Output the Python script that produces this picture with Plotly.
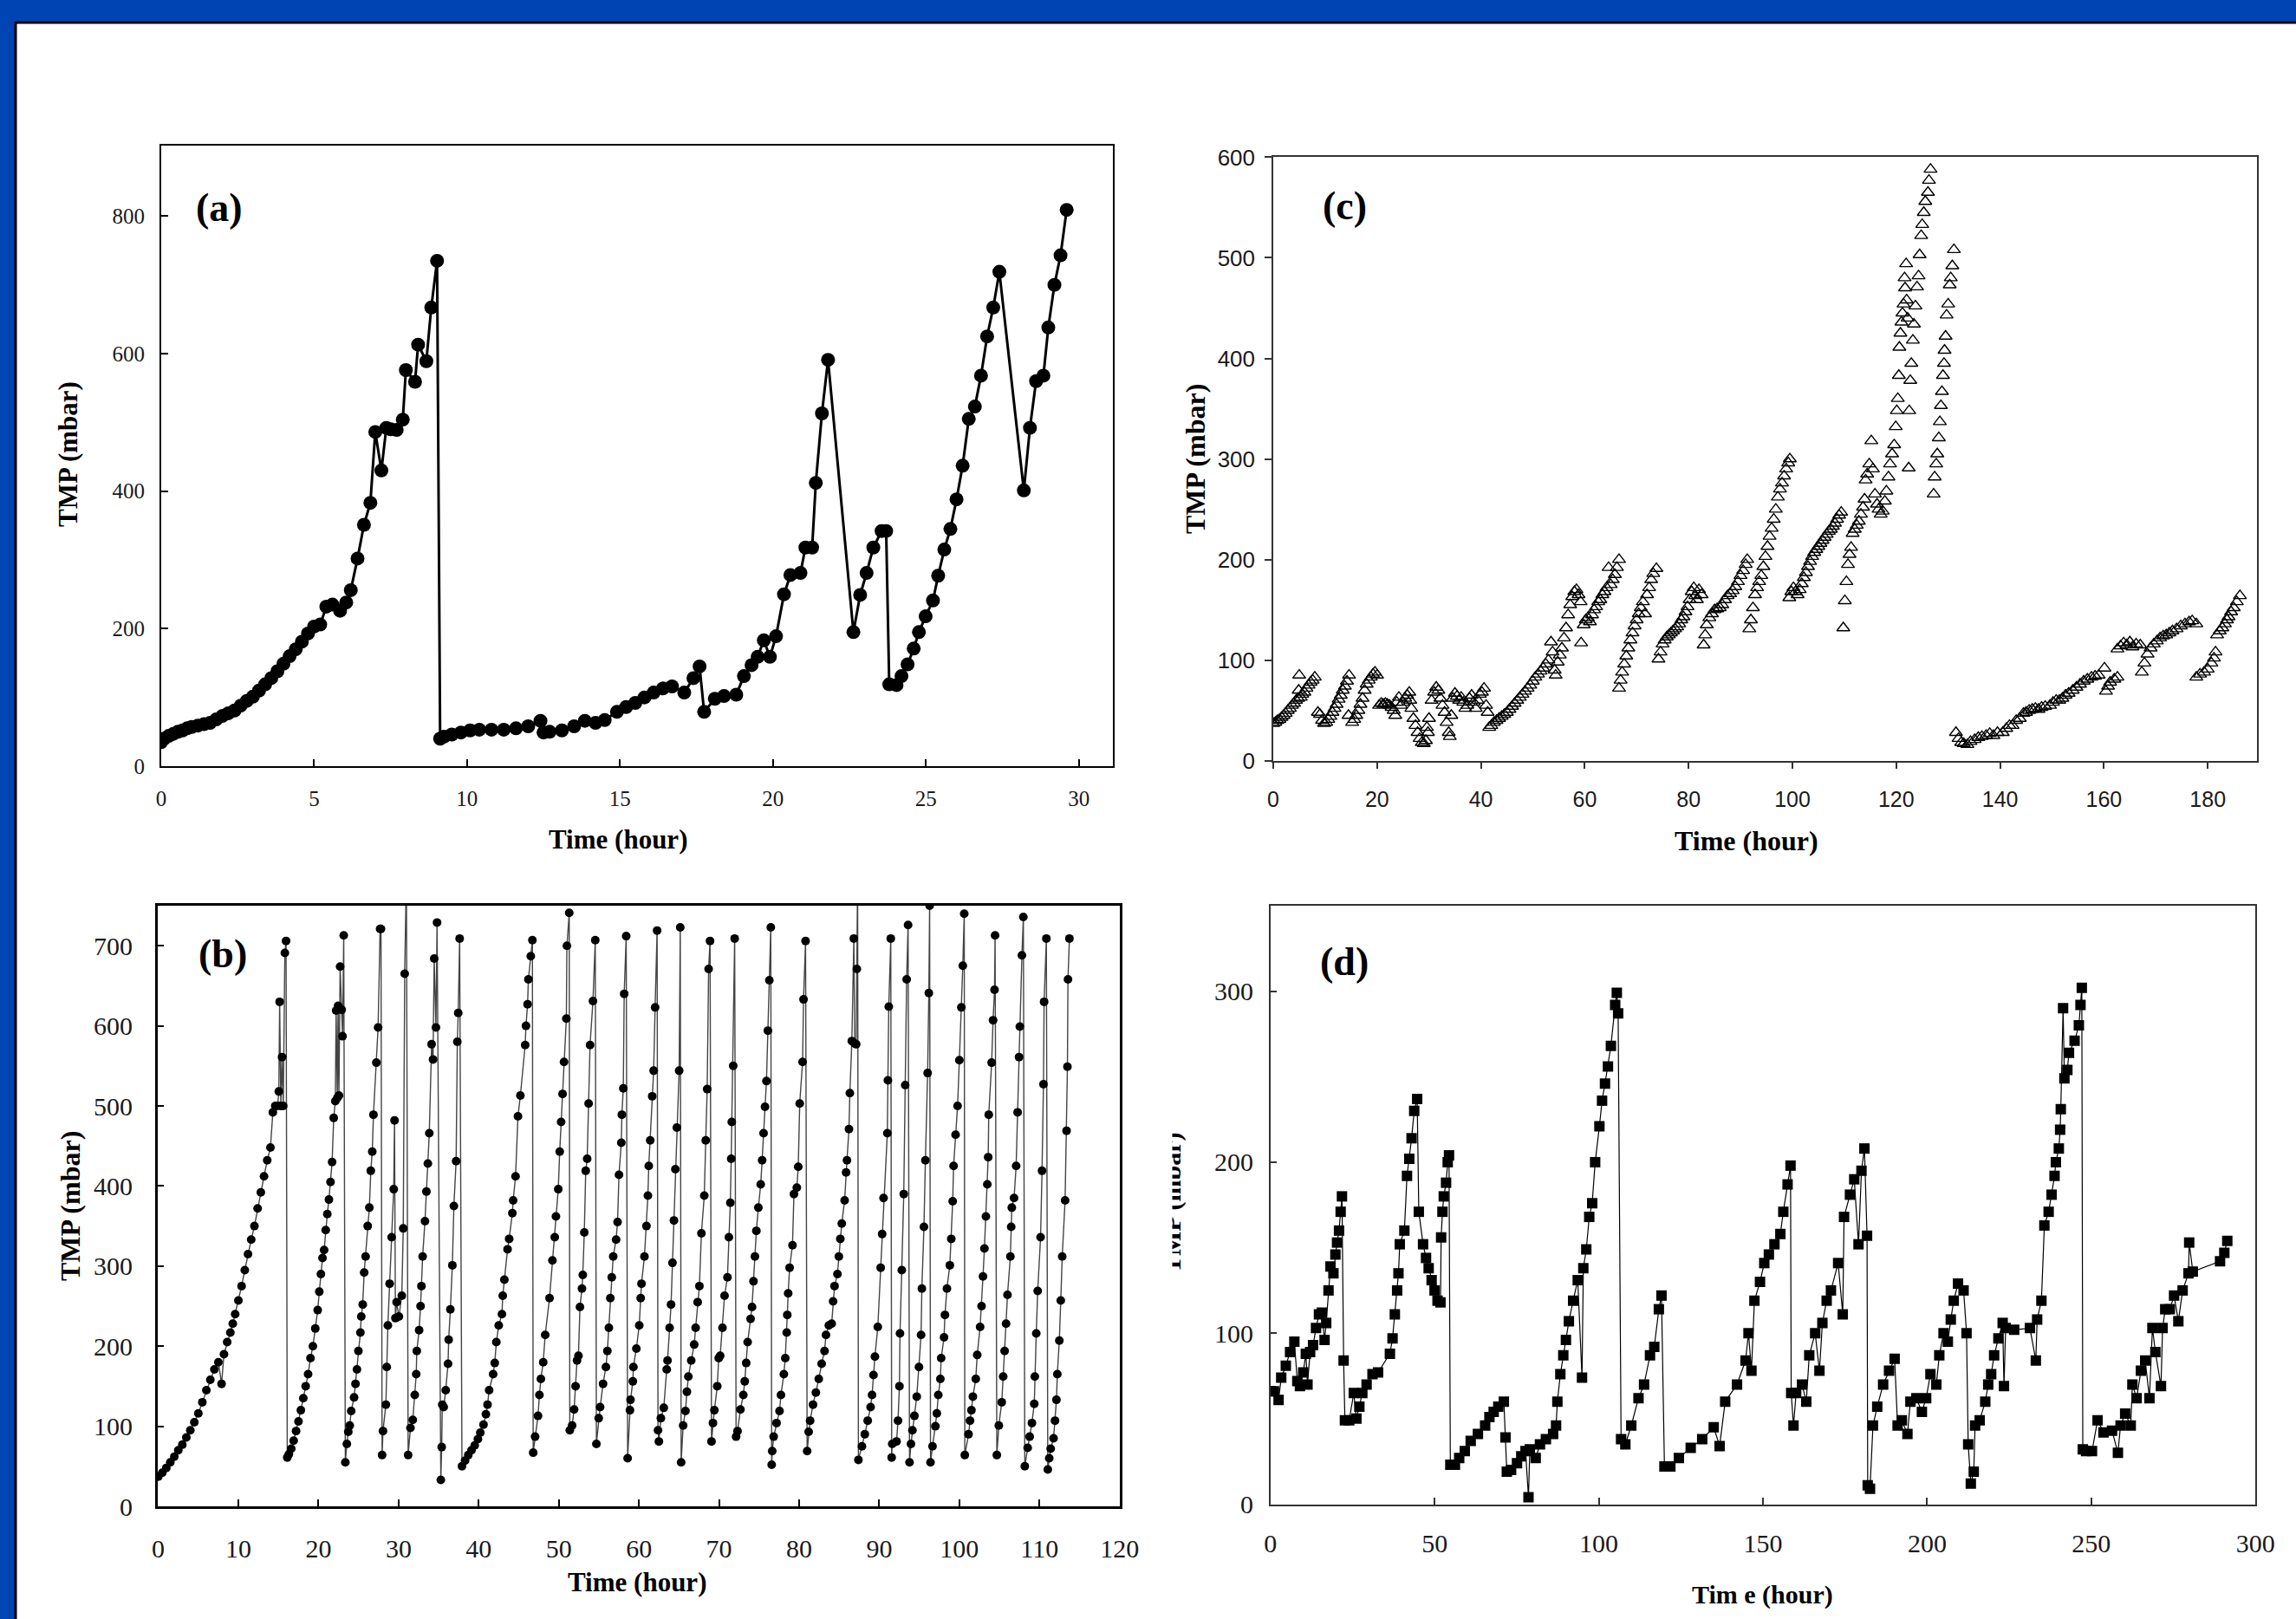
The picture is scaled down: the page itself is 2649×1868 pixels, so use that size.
import plotly.graph_objects as go

# ---------------- DATA ----------------
# Panel (a): TMP vs time
a_time = [0.0, 0.1, 0.25, 0.4, 0.55, 0.7, 0.85, 1.0, 1.2, 1.4, 1.6, 1.8, 2.0, 2.2, 2.4, 2.6, 2.8, 3.0, 3.2, 3.4,
          3.6, 3.8, 4.0, 4.2, 4.4, 4.6, 4.8, 5.0, 5.2, 5.4, 5.6, 5.85, 6.05, 6.2, 6.42, 6.63, 6.84, 7.0, 7.2, 7.36,
          7.5, 7.7, 7.9, 8.0, 8.3, 8.4, 8.67, 8.83, 9.02, 9.12, 9.25, 9.5, 9.8, 10.1, 10.4, 10.8, 11.2, 11.6, 12.0,
          12.4, 12.5, 12.7, 13.1, 13.5, 13.85, 14.2, 14.5, 14.9, 15.2, 15.5, 15.8, 16.1, 16.4, 16.7, 17.1, 17.4,
          17.6, 17.75, 18.1, 18.4, 18.8, 19.05, 19.3, 19.5, 19.7, 19.9, 20.1, 20.36, 20.57, 20.9, 21.06, 21.28,
          21.4, 21.6, 21.8, 22.63, 22.85, 23.06, 23.28, 23.55, 23.7, 23.8, 24.04, 24.2, 24.4, 24.6, 24.77, 24.99,
          25.23, 25.4, 25.6, 25.8, 26.0, 26.2, 26.4, 26.6, 26.8, 27.0, 27.2, 27.4, 28.2, 28.4, 28.6, 28.84, 29.0,
          29.2, 29.4, 29.6]
a_tmp = [35, 40, 44, 47, 50, 52, 55, 57, 59, 61, 63, 68, 73, 77, 81, 88, 95, 101, 110, 119,
         128, 138, 149, 160, 170, 181, 193, 203, 206, 232, 235, 226, 238, 256, 302, 351, 383, 486, 430, 492,
         490, 489, 504, 576, 559, 613, 589, 667, 735, 40, 43, 46, 49, 52, 53, 53, 53, 55, 58,
         66, 49, 50, 52, 58, 66, 63, 67, 79, 86, 92, 100, 107, 113, 116, 107, 128,
         145, 79, 98, 102, 104, 131, 147, 159, 183, 159, 189, 250, 278, 281, 318, 318,
         412, 513, 591, 195, 249, 281, 318, 342, 342, 119, 118, 131, 148, 171, 195, 218,
         241, 277, 315, 345, 388, 437, 505, 523, 568, 625, 667, 719, 401, 492, 560, 568, 638,
         700, 743, 809]

# Panel (b)
b_time = [0, 0.5, 1, 1.5, 2, 2.5, 3, 3.5, 4, 4.5, 5, 5.5, 6, 6.5, 7, 7.5, 7.9, 8.2, 8.6, 9, 9.3, 9.6, 10, 10.4,
          10.8, 11.2, 11.6, 12, 12.4, 12.8, 13.2, 13.6, 14, 14.3, 14.6, 14.9, 15.05, 15.15, 15.3, 15.45, 15.6,
          15.8, 15.95, 16.1,
          16.3, 16.6, 16.9, 17.2, 17.5, 17.8, 18.1, 18.4, 18.7, 19.0, 19.3, 19.6, 19.9, 20.1, 20.3, 20.5, 20.7,
          20.9, 21.1, 21.3, 21.5, 21.7, 21.9, 22.1, 22.2, 22.35, 22.45, 22.55, 22.7, 22.9, 23.0, 23.15, 23.35,
          23.54, 23.72, 23.9, 24.08, 24.44, 24.62, 24.8, 24.98, 25.23, 25.34, 25.52, 25.7, 25.88, 26.14, 26.35,
          26.53, 26.71, 26.86, 27.22, 27.44, 27.69, 27.8, 27.94,
          28.05, 28.41, 28.52, 28.66, 28.88, 29.13, 29.39, 29.49, 29.6, 29.75, 30.04, 30.4, 30.58, 30.76, 30.97,
          31.19,
          31.48, 31.77, 32.02, 32.2, 32.27, 32.56, 32.74, 32.85, 33.0, 33.29, 33.47, 33.65, 33.83, 34.12, 34.3,
          34.44, 34.66, 34.8, 35.27,
          35.38, 35.45, 35.63, 35.88, 36.17, 36.25, 36.46, 36.71, 36.9, 37.18, 37.33, 37.44, 37.62, 37.91,
          38.3, 38.7, 39.1, 39.5, 39.9, 40.2, 40.6, 40.9, 41.1, 41.3, 41.8, 42.0, 42.2, 42.5, 42.9, 43.0, 43.2,
          43.6, 43.8, 44.2, 44.3, 44.6, 44.9, 45.2, 45.8, 45.9, 46.1, 46.2, 46.5, 46.7, 46.8,
          47.04, 47.4, 47.58, 47.76, 48.05, 48.3, 48.84, 49.2, 49.49, 49.64, 49.93, 50.11, 50.29, 50.47, 50.65,
          50.94, 51.01, 51.3, 51.37,
          51.66, 51.91, 52.09, 52.27, 52.45, 52.64, 52.89, 52.99, 53.18, 53.36, 53.54, 53.72, 53.9, 54.26, 54.55,
          54.69,
          54.98, 55.16, 55.52, 55.88, 56.06, 56.25, 56.43, 56.61, 56.79, 57.15, 57.33, 57.51, 57.8, 57.87, 58.05,
          58.16, 58.41, 58.59,
          58.88, 58.95, 59.24, 59.31, 59.68, 60.04, 60.22, 60.32, 60.69, 60.94, 61.12, 61.23, 61.41, 61.66,
          61.84, 62.02, 62.27, 62.38,
          62.49, 62.74, 63.1, 63.47, 63.57, 63.83, 64.01, 64.19, 64.37, 64.55, 64.73, 65.02, 65.16, 65.27,
          65.52, 65.81, 65.99, 66.17, 66.53, 66.9, 67.08, 67.33, 67.55, 67.8, 68.16, 68.34, 68.52, 68.7, 68.88,
          69.06,
          69.24, 69.42, 69.78, 69.96, 70.14, 70.43, 70.69, 71.05, 71.23, 71.41, 71.52, 71.59, 71.77, 71.95,
          72.13,
          72.31, 72.67, 73.03, 73.21, 73.39, 73.57, 73.94, 74.12, 74.3, 74.48, 74.66, 74.91, 75.2, 75.38, 75.56,
          75.74, 75.92, 76.1, 76.28, 76.46, 76.57,
          76.64, 76.82, 77.18, 77.55, 77.73, 78.09, 78.27, 78.45, 78.52, 78.63, 78.81, 79.17, 79.35, 79.71,
          79.89, 80.07, 80.43, 80.55, 80.8, 81.0,
          81.19, 81.37, 81.73, 82.09, 82.45, 82.81, 83.17, 83.35, 83.71, 84.06, 84.24, 84.42, 84.78, 84.96,
          85.14, 85.32, 85.68, 85.86, 85.97, 86.22, 86.33, 86.58, 86.83, 86.94, 87.12, 87.2, 87.3, 87.4,
          87.84, 88.2, 88.56, 88.92, 89.1, 89.28, 89.46, 89.82, 90.18, 90.36, 90.54, 91.01, 91.08, 91.19, 91.44,
          91.55,
          91.62, 92.16, 92.34, 92.52, 92.59, 92.81, 93.06, 93.24, 93.42, 93.6, 93.78,
          93.96, 94.14, 94.39, 94.68, 94.96, 95.22, 95.32, 95.58, 95.76, 96.04, 96.19, 96.29, 96.4,
          96.65, 97.01, 97.19, 97.37, 97.63, 97.73, 98.09, 98.2, 98.45, 98.81, 98.99, 99.17, 99.28, 99.53,
          99.78, 100.0, 100.25, 100.43, 100.61, 100.68,
          101.15, 101.33, 101.51, 101.69, 102.05, 102.23, 102.59, 102.77, 102.95, 103.13, 103.31, 103.49,
          103.6, 103.67, 104.03, 104.21, 104.39, 104.46, 104.68,
          104.93, 105.29, 105.47, 105.65, 105.83, 106.01, 106.37, 106.47, 106.55, 106.83, 107.09, 107.27,
          107.45, 107.55, 107.81, 107.99, 108.17,
          108.53, 108.78, 109.06, 109.35, 109.42, 109.6, 109.78, 110.14, 110.32, 110.5, 110.58, 110.86, 111.04,
          111.22, 111.4, 111.76, 111.94, 112.12, 112.23, 112.48, 112.66, 112.84, 113.2, 113.38, 113.49, 113.56,
          113.74]
b_tmp = [37, 42, 48, 55, 62, 70, 77, 86, 95, 105, 116, 130, 145, 158, 171, 180, 153, 190, 205, 217, 228, 240, 257, 275,
         295, 315, 333, 350, 372, 392, 412, 432, 448, 492, 500, 500, 518, 630, 500, 561, 500,
         691, 706, 61,
         65, 72, 82, 94, 106, 120, 135, 150, 165, 185, 200, 222, 245, 268, 290, 310, 320,
         345, 365, 383, 405, 430, 485, 506, 619, 510, 625, 513, 674, 620, 587, 713, 55,
         78, 93, 101, 119, 136, 153, 171, 194, 217, 237, 252, 292, 312, 350, 373,
         419, 443, 489, 554, 598, 721, 721, 64,
         94, 127, 174, 226, 278, 336, 396, 482, 235, 255, 237, 263, 347, 665, 790,
         64,
         98, 108, 139, 165, 194, 220, 250, 275, 312, 356, 393, 428, 466, 577, 558,
         684, 598, 729, 33,
         74, 127, 124, 145, 178, 208, 246, 301, 375, 431, 580, 616, 709, 50,
         57, 64, 70, 76, 84, 92, 102, 115, 127, 145, 165, 179, 205, 226, 240, 263, 283,
         321, 334, 366, 382, 412, 487, 513, 576, 600, 627, 658, 687, 707, 67,
         87, 113, 139, 159, 180, 214, 260, 307, 336, 362, 396, 443, 480, 515, 555,
         609, 700, 741, 95,
         101, 121, 150, 182, 188, 249, 272, 289, 342, 419, 434, 503, 576, 631, 707,
         78,
         110, 124, 153, 174, 194, 223, 260, 286, 312, 333, 355, 414, 454, 489, 522,
         640, 712, 60,
         120, 133, 156, 174, 197, 226, 260, 278, 312, 350, 388, 425, 457, 512,
         544, 623, 719, 95,
         81, 110, 123, 171, 182, 223, 252, 304, 357, 421, 473, 544, 723, 55,
         101, 119, 143, 162, 182, 202, 223, 255, 275, 341, 388, 457, 521, 671, 706,
         81,
         104, 120, 150, 185, 188, 223, 263, 286, 336, 379, 434, 480, 550, 709,
         87,
         94, 121, 139, 156, 179, 205, 234, 249, 281, 312, 344, 373, 402, 432, 466,
         499, 531, 594, 657, 723, 52,
         69, 87, 104, 119, 139, 165, 185, 217, 239, 266, 298, 326, 390, 398,
         424, 503, 555, 633, 706, 69,
         93, 107, 127, 142, 159, 178, 194, 214, 226, 228, 256, 275, 290, 312,
         334, 353, 382, 417, 432, 471, 516, 581, 709, 578, 577, 671, 790, 58,
         75, 90, 107, 124, 139, 164, 187, 224, 298, 340, 385, 466, 532, 624, 709,
         61,
         78, 81, 107, 150, 216, 295, 390, 526, 658, 726, 55,
         78, 95, 113, 137, 174, 214, 272, 349, 432, 541, 641, 750, 55,
         75, 100, 116, 139, 159, 185, 211, 239, 272, 301, 334, 381, 425, 464,
         500, 557, 623, 675, 740, 64,
         90, 107, 120, 137, 159, 189, 224, 250, 287, 322, 362, 402,
         436, 489, 554, 607, 645, 713, 64,
         101, 130, 162, 194, 228, 264, 312, 349, 373, 385, 425, 492,
         561, 599, 688, 736, 50,
         73, 87, 104, 128, 162, 216, 269, 336, 419, 527, 630, 709, 46,
         60, 72, 85, 107, 133, 165, 207, 257, 312, 382, 469, 549, 658,
         709]

# Panel (c)
c_time = [0, 0.4, 0.8, 1.2, 1.6, 2.0, 2.4, 2.8, 3.2, 3.6, 4.0, 4.4, 4.8, 4.9, 5.0, 5.3, 5.6, 6.0, 6.4, 6.8, 7.2,
          7.6, 8.0,
          8.6, 9.0, 9.4, 9.8, 10.2, 10.6, 11.0, 11.4, 11.8, 12.2, 12.6, 13.0, 13.4, 13.8, 14.2, 14.6, 14.5,
          15.2, 15.6, 16.0, 16.4, 16.8, 17.2, 17.6, 18.0, 18.4, 18.8, 19.2, 19.6, 20.0,
          20.4, 20.8, 21.2, 21.6, 22.0, 22.4, 22.8, 23.2, 23.5, 23.8, 24.2, 24.6, 25.0, 25.4, 25.8, 26.2, 26.4,
          26.6, 27.0, 27.4, 27.8, 28.2, 28.6, 29.0, 29.4, 29.8, 30.0, 29.6,
          30.5, 31.0, 31.4, 31.8, 32.2, 32.6, 33.0, 33.4, 33.8, 34.0, 34.3, 34.6, 35.0, 35.4, 35.8, 36.2, 36.6,
          37.0, 37.4, 37.8, 38.2, 38.6, 39.0, 39.4, 39.8, 40.2, 40.6, 41.0, 41.3,
          41.6, 42.0, 42.5, 43.0, 43.5, 44.0, 44.5, 45.0, 45.5, 46.0, 46.5, 47.0, 47.5, 48.0, 48.5, 49.0, 49.5,
          50.0, 50.5, 51.0, 51.5, 52.0, 52.5, 53.0, 53.5, 53.8, 54.2, 54.4, 54.8, 55.2, 55.6, 56.0, 56.4, 56.8,
          57.2, 57.6, 58.0, 58.4, 58.8, 59.2, 59.3,
          59.8, 60.2, 60.6, 61.0, 61.4, 61.8, 62.2, 62.6, 63.0, 63.4, 63.8, 64.2, 64.6, 65.0, 65.4, 65.8, 66.2,
          66.6,
          66.6, 66.9, 67.2, 67.6, 68.0, 68.4, 68.8, 69.2, 69.6, 70.0, 70.4, 70.8, 71.2, 71.6, 72.0, 72.4, 72.8,
          73.2, 73.8,
          74.2, 74.6, 75.0, 75.4, 75.8, 76.2, 76.6, 77.0, 77.4, 77.8, 78.2, 78.6, 79.0, 79.4, 79.8, 80.2, 80.6,
          81.0, 81.3, 81.6, 82.0, 82.5, 82.9, 83.2,
          83.5, 84.0, 84.5, 85.0, 85.5, 86.0, 86.5, 87.0, 87.5, 88.0, 88.5, 89.0, 89.5, 90.0, 90.5, 91.0, 91.3,
          91.7, 92.0, 92.4, 92.8, 93.2, 93.6, 94.0, 94.4, 94.8, 95.2, 95.6, 96.0, 96.4, 96.8, 97.2, 97.6, 98.0,
          98.4, 98.8, 99.2, 99.5,
          99.4, 99.8, 100.2, 100.6, 101.0, 101.4, 101.8, 102.2, 102.6, 103.0, 103.4, 103.8, 104.2, 104.6, 105.0,
          105.4, 105.8, 106.2, 106.6, 107.0, 107.4, 107.8, 108.2, 108.6, 109.0, 109.4,
          109.8, 110.1, 110.4, 110.7, 111.0, 111.3,
          111.6, 112.0, 112.4, 112.8, 113.2, 113.6, 113.9, 114.1, 114.4, 114.8, 115.2, 115.5, 115.9, 116.3,
          116.6, 117.0, 117.4, 117.8, 118.1, 118.5, 118.8,
          119.2, 119.6, 119.9, 120.1, 120.3, 120.5, 120.6, 120.8, 121.0, 121.2, 121.4, 121.6, 121.9, 121.7,
          122.0, 122.2, 122.4, 122.5, 122.7, 122.9, 123.2, 123.4, 123.7, 124.0, 124.3, 124.5, 124.8, 125.0,
          125.3, 125.6, 126.1, 126.3, 126.6,
          127.2, 127.4, 127.7, 127.9, 128.2, 128.4, 128.6, 128.8, 129.0, 129.2, 129.3, 129.5, 129.7, 130.0,
          130.3, 130.5, 130.8, 131.1,
          131.5, 132.0, 132.5, 133.0, 133.7, 134.3, 135.1, 135.8, 136.5, 137.3, 138.0, 138.7, 139.5, 140.5,
          141.2, 141.8, 142.4, 143.1, 143.8, 144.5, 145.0, 145.6, 146.2, 146.8, 147.4, 148.0, 148.7, 149.6,
          150.2, 150.8, 151.4, 152.0, 152.6, 153.2, 154.0, 154.7, 155.4, 156.1, 156.8, 157.6, 158.3, 159.0,
          160.1, 160.4, 160.8, 161.2, 162.0, 162.6,
          162.6, 163.2, 163.8, 164.4, 165.0, 165.5, 166.2, 167.0,
          167.3, 167.8, 168.4, 169.0, 169.6, 170.2, 170.8, 171.4, 172.0, 172.6, 173.2, 174.0, 174.8, 175.6,
          176.4, 177.0, 177.8,
          177.8, 178.5, 179.3, 180.0, 180.7, 181.2, 181.5, 181.8, 182.3, 182.8, 183.3, 183.7, 184.0, 184.5,
          185.0, 185.6, 186.2]
c_tmp = [37, 38, 40, 41, 43, 45, 47, 50, 52, 55, 57, 60, 62, 70, 85, 63, 66, 68, 72, 75, 78,
         80, 83,
         48, 46, 40, 37, 38, 41, 44, 48, 52, 56, 61, 65, 70, 74, 79, 85, 45,
         38, 41, 45, 50, 56, 62, 70, 76, 80, 83, 86, 88, 85,
         55, 57, 56, 57, 56, 55, 53, 50, 45, 58, 63, 55, 58, 62, 65, 68, 60,
         52, 42, 35, 28, 22, 18, 17, 20, 28, 42, 33,
         60, 68, 73, 70, 62, 55, 48, 38, 28, 24, 45, 62, 67, 64, 60, 63, 58,
         52, 55, 62, 65, 58, 52, 60, 66, 68, 72, 55, 48,
         33, 35, 38, 40, 42, 44, 46, 48, 51, 54, 57, 60, 63, 66, 69, 72, 75,
         79, 83, 86, 89, 92, 96, 100, 118, 108, 90, 85, 98, 105, 112, 122, 132, 145,
         155, 163, 168, 170, 165, 158, 117,
         135, 140, 142, 138, 145, 150, 153, 158, 160, 165, 168, 172, 192, 175, 180, 185, 192,
         200,
         72, 80, 88, 96, 104, 112, 120, 127, 134, 140, 146, 152, 158, 146, 165, 172, 180,
         186, 191,
         101, 108, 116, 120, 123, 125, 127, 129, 131, 133, 136, 140, 143, 148, 153, 160, 168,
         172, 164, 160, 170, 165, 115, 125,
         135, 142, 146, 150, 151, 152, 155, 160, 164, 166, 169, 173, 178, 184, 189, 195, 200,
         131, 140, 152, 165, 172, 178, 184, 193, 203, 213, 223, 231, 240, 250, 262, 270, 276,
         283, 290, 296, 300,
         162, 168, 172, 168, 165, 170, 176, 182, 187, 193, 198, 203, 207, 210, 213,
         216, 219, 222, 225, 228, 230, 233, 236, 240, 244, 247,
         132, 159, 178, 195, 205, 212,
         226, 230, 234, 238, 245, 252, 260, 279, 285, 295, 318, 290, 265, 255,
         250, 245, 248, 258, 268, 282, 295,
         305, 314, 332, 348, 360, 383, 411, 425, 436, 445, 454, 480, 494, 470,
         458, 440, 291, 348, 378, 395, 418, 434, 452, 471, 482, 503, 522, 533,
         545, 556, 565, 577, 588,
         265, 282, 295, 305, 321, 337, 353, 367, 383, 395, 408, 422, 443, 454,
         473, 480, 492, 508,
         28, 22, 18, 17, 16, 19, 21, 23, 24, 25, 27, 25, 28, 28,
         32, 35, 35, 40, 42, 47, 48, 50, 51, 52, 51, 53, 54, 55,
         58, 60, 60, 62, 65, 67, 70, 73, 76, 79, 81, 83, 84, 85,
         92, 69, 74, 78, 81, 83,
         111, 114, 117, 115, 118, 113, 116, 115,
         88, 97, 106, 112, 116, 119, 122, 124, 125, 127, 129, 131, 134, 136,
         138, 139, 136,
         83, 86, 88, 91, 97, 102, 108, 125, 129, 132, 136, 140, 143, 148,
         152, 158, 164]

# Panel (d)
d_time = [0, 1.1, 2.5, 3.3, 4.7, 6.0, 7.3, 8.2, 9.0, 10.0, 10.8, 11.3, 12.1, 13.0, 13.9, 14.8, 15.7, 16.5, 17.0,
          17.7, 18.3, 19.2, 19.8, 20.3, 20.9, 21.4, 21.8, 22.3, 22.7, 24.0, 25.4, 26.2, 27.1, 28.0, 29.3, 31.1,
          32.8, 36.4, 37.2, 37.9, 38.6, 39.0, 39.4, 40.8, 41.6, 42.3, 43.0, 43.8, 44.7, 45.2, 46.5, 47.4, 48.2,
          49.1, 50.0, 50.9, 51.8, 52.0, 52.4, 52.8, 53.5, 54.0, 54.4, 54.8, 56.2, 57.5, 59.2, 61.0, 63.2, 65.4,
          66.7, 68.0, 69.4, 71.1, 71.6, 72.0, 73.3, 75.1, 76.4, 77.7, 78.6, 79.0, 80.8, 82.1, 83.9, 86.1, 87.0,
          87.4, 88.3, 89.2, 90.0, 90.9, 92.2, 93.6, 94.9, 95.3, 96.2, 97.1, 98.0, 98.9, 100.2, 101.0, 101.9,
          102.8, 103.7, 105.0, 105.5, 105.9, 106.8, 108.1, 109.9, 112.1, 113.8, 115.6, 116.9, 118.3, 119.1,
          120.0, 121.8, 124.4, 128.0, 131.5, 135.0, 136.8, 138.5, 142.1, 144.7, 145.6, 146.5, 147.4, 149.1,
          150.4, 151.8, 153.5, 155.3, 156.2, 157.5, 158.4, 158.6, 159.3, 160.1, 161.9, 163.2, 164.1, 165.9,
          167.2, 168.1, 169.4, 170.7, 172.9, 174.3, 174.7, 176.5, 177.8, 179.1, 180.0, 180.9, 181.7, 181.9,
          182.6, 183.5, 184.8, 186.6, 188.4, 190.1, 191.0, 192.3, 194.0, 194.9, 196.7, 198.4, 199.7, 201.0,
          202.8, 203.7, 205.0, 206.3, 207.2, 208.1, 209.4, 211.1, 212.0, 212.5, 213.3, 214.2, 214.6, 216.0,
          217.7, 218.6, 219.5, 220.4, 221.7, 223.0, 223.4, 223.9, 226.5, 231.3, 233.1, 233.5, 234.8, 235.7,
          237.0, 237.9, 238.8, 239.2, 240.1, 240.5, 240.7, 241.4, 241.8, 242.7, 243.2, 244.9, 246.2, 246.7,
          247.1, 247.4, 248.4, 250.2, 251.9, 253.7, 256.3, 258.1, 258.9, 260.3, 262.0, 262.5, 263.8, 265.1,
          266.4, 267.7, 268.6, 269.5, 271.2, 271.7, 272.5, 273.9, 275.2, 276.5, 277.8, 279.6, 279.8, 280.9,
          289.2, 290.5, 291.4]
d_tmp = [66, 66, 61, 74, 81, 89, 95, 72, 69, 77, 88, 70, 89, 93, 103, 111, 112, 96, 106,
         125, 139, 135, 146, 153, 160, 171, 180, 84, 49, 49, 65, 50, 57, 65, 70, 76,
         77, 88, 97, 111, 125, 135, 152, 160, 192, 202, 214, 230, 237, 171, 152, 144, 138,
         131, 125, 119, 118, 156, 171, 180, 188, 200, 204, 23, 23, 27, 31, 37, 41, 46,
         51, 54, 57, 60, 39, 19, 20, 24, 28, 31, 4, 32, 27, 35, 38, 41, 46,
         60, 76, 87, 96, 107, 119, 131, 74, 138, 149, 168, 176, 200, 221, 236, 246,
         256, 268, 292, 299, 287, 38, 35, 46, 62, 70, 87, 92, 114, 122,
         22, 22, 27, 33, 38, 45, 34, 60, 70, 84, 100, 78, 119, 130,
         141, 146, 152, 158, 171, 187, 198, 65, 46, 65, 70, 60, 87, 100,
         78, 106, 119, 125, 141, 111, 168, 181, 190, 152, 195, 208, 157, 11,
         9, 46, 57, 70, 78, 85, 46, 49, 41, 60, 62, 54, 62, 76,
         70, 87, 100, 95, 108, 119, 129, 125, 100, 35, 12, 19, 46, 49,
         60, 70, 76, 87, 97, 106, 69, 103, 102, 103, 84, 108, 119, 163,
         171, 181, 192, 200, 208, 219, 231, 290, 249, 254, 264, 271, 280, 292,
         302, 32, 31, 31, 49, 42, 43, 30, 46, 53, 46, 70, 62, 78,
         84, 62, 103, 89, 69, 103, 114, 114, 122, 107, 125, 135, 153, 136,
         142, 147, 154]

a_xticks = [0, 5, 10, 15, 20, 25, 30]
a_yticks = [0, 200, 400, 600, 800]
c_xticks = [0, 20, 40, 60, 80, 100, 120, 140, 160, 180]
c_yticks = [0, 100, 200, 300, 400, 500, 600]
b_xticks = [0, 10, 20, 30, 40, 50, 60, 70, 80, 90, 100, 110, 120]
b_yticks = [0, 100, 200, 300, 400, 500, 600, 700]
d_xticks = [0, 50, 100, 150, 200, 250, 300]
d_yticks = [0, 100, 200, 300]

# ---------------- FIGURE ----------------
W, H = 2649, 1868


def px(x):
    return x / W


def py(y):
    return 1 - y / H


fig = go.Figure()

fig.add_trace(go.Scatter(x=a_time, y=a_tmp, mode="lines+markers", xaxis="x", yaxis="y",
                         line=dict(color="black", width=3),
                         marker=dict(symbol="circle", size=16, color="black"), showlegend=False))
fig.add_trace(go.Scatter(x=c_time, y=c_tmp, mode="markers", xaxis="x2", yaxis="y2",
                         marker=dict(symbol="triangle-up-open", size=13, color="black",
                                     line=dict(width=1.4, color="black")), showlegend=False))
fig.add_trace(go.Scatter(x=b_time, y=b_tmp, mode="lines+markers", xaxis="x3", yaxis="y3",
                         line=dict(color="#444444", width=1.4),
                         marker=dict(symbol="circle", size=10, color="black"), showlegend=False))
fig.add_trace(go.Scatter(x=d_time, y=d_tmp, mode="lines+markers", xaxis="x4", yaxis="y4",
                         line=dict(color="black", width=1.2),
                         marker=dict(symbol="square", size=12, color="black"), showlegend=False))

serif = "Liberation Serif, Times New Roman, serif"
sans = "Liberation Sans, Arial, sans-serif"


def ax(domain, rng, ticks, font, size, ticks_dir, lw, lcolor, anchor, standoff):
    return dict(domain=domain, range=rng, tickvals=ticks, ticktext=[str(t) for t in ticks],
                showgrid=False, zeroline=False, showline=True, linecolor=lcolor, linewidth=lw,
                mirror=True, ticks=ticks_dir, ticklen=8, tickwidth=1.5, tickcolor=lcolor,
                tickfont=dict(family=font, size=size, color="#1a1a1a"), anchor=anchor,
                ticklabelstandoff=standoff, automargin=False)


layout = dict(
    width=W, height=H, margin=dict(l=0, r=0, t=0, b=0, pad=0, autoexpand=False),
    paper_bgcolor="white", plot_bgcolor="white", showlegend=False,
    xaxis=ax([px(185.9), px(1283.6)], [0, 31.1], a_xticks, serif, 25, "inside", 2, "black", "y", 14),
    yaxis=ax([py(884), py(168.4)], [0, 902], a_yticks, serif, 25, "inside", 2, "black", "x", 12),
    xaxis2=ax([px(1469), px(2603.5)], [0, 189.4], c_xticks, sans, 25, "outside", 1.5, "#333333", "y2", 14),
    yaxis2=ax([py(877.7), py(181.4)], [0, 600], c_yticks, sans, 26, "outside", 1.5, "#333333", "x2", 6),
    xaxis3=ax([px(181.7), px(1291.7)], [-0.1, 120], b_xticks, serif, 30, "inside", 2.5, "black", "y3", 20),
    yaxis3=ax([py(1738), py(1045)], [0, 750], b_yticks, serif, 30, "inside", 2.5, "black", "x3", 20),
    xaxis4=ax([px(1465.7), px(2602.3)], [0, 300], d_xticks, serif, 30, "inside", 1.5, "#333333", "y4", 18),
    yaxis4=ax([py(1735.5), py(1045)], [0, 350], d_yticks, serif, 30, "inside", 1.5, "#333333", "x4", 12),
)
fig.update_layout(**layout)

# frame decoration
fig.add_shape(type="rect", xref="paper", yref="paper", x0=0, x1=1, y0=py(25), y1=1,
              fillcolor="#0044B4", line=dict(width=0), layer="below")
fig.add_shape(type="rect", xref="paper", yref="paper", x0=0, x1=px(17), y0=0, y1=1,
              fillcolor="#0044B4", line=dict(width=0), layer="below")
fig.add_shape(type="line", xref="paper", yref="paper", x0=px(17), x1=1, y0=py(26), y1=py(26),
              line=dict(color="black", width=3))
fig.add_shape(type="line", xref="paper", yref="paper", x0=px(18), x1=px(18), y0=0, y1=py(25),
              line=dict(color="black", width=3))


def label(text, x, y, size, angle=0, bold=True, family=serif):
    t = f"<b>{text}</b>" if bold else text
    fig.add_annotation(text=t, xref="paper", yref="paper", x=px(x), y=py(y), xanchor="center",
                       yanchor="middle", showarrow=False, textangle=angle,
                       font=dict(family=family, size=size, color="black"))


# panel labels
label("(a)", 253, 240, 46)
label("(c)", 1551, 238, 46)
label("(b)", 257, 1100, 46)
label("(d)", 1551, 1109, 46)

# axis titles
label("TMP (mbar)", 78, 524, 31, angle=-90)
label("Time (hour)", 713, 968, 31)
label("TMP (mbar)", 1379, 530, 32, angle=-90)
label("Time (hour)", 2015, 970, 32)
label("TMP (mbar)", 81, 1392, 32, angle=-90)
label("Time (hour)", 735, 1825, 31)
label("TMP (mbar)", 1352, 1388, 30, angle=-90)
label("Tim e (hour)", 2033, 1840, 30)

# partially hidden (cut off) title of panel (d)
fig.add_annotation(text=" ", xref="paper", yref="paper", x=px(1339), y=py(1388), xanchor="center",
                   yanchor="middle", showarrow=False, width=24, height=240, bgcolor="white",
                   font=dict(size=10))

post = (
    "var gd=document.getElementById('{plot_id}');"
    "var h=document.documentElement, b=document.body;"
    "h.style.margin='0';h.style.padding='0';h.style.overflow='hidden';"
    "b.style.margin='0';b.style.padding='0';b.style.overflow='hidden';"
    "gd.style.position='fixed';gd.style.left='0px';gd.style.top='0px';"
)
fig.write_html("out.html", post_script=post, config={"displayModeBar": False})
